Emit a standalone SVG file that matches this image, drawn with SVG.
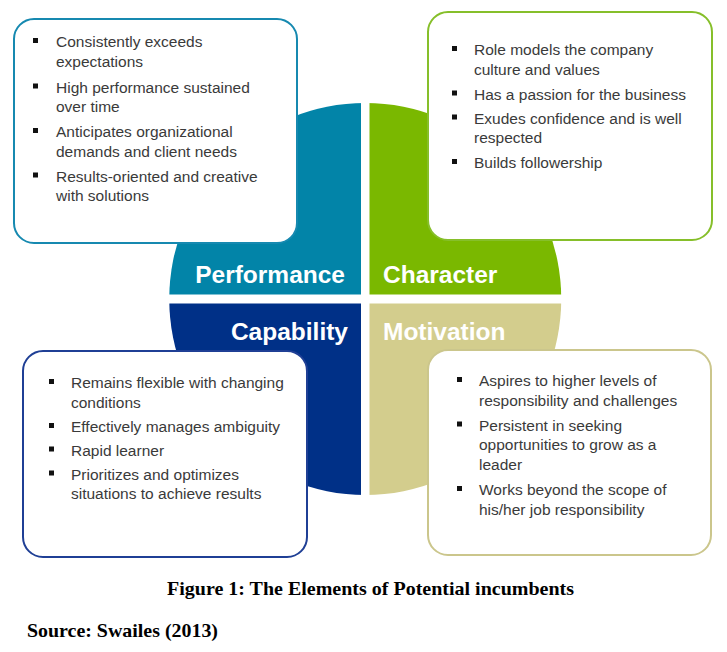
<svg xmlns="http://www.w3.org/2000/svg" width="727" height="652" viewBox="0 0 727 652">
<style>
.q{font-family:"Liberation Sans",Arial,sans-serif;font-weight:bold;font-size:24.5px;fill:#ffffff}
.t{font-family:"Liberation Sans",Arial,sans-serif;font-size:15.5px;fill:#3a3a3a}
.b{fill:#111111}
.box{fill:#ffffff;stroke-width:2}
.cap{font-family:"Liberation Serif","Times New Roman",serif;font-weight:bold;font-size:19.5px;fill:#000000}
</style>
<defs>
<clipPath id="circ"><circle cx="365.25" cy="299" r="196"/></clipPath>
</defs>
<rect x="0" y="0" width="727" height="652" fill="#ffffff"/>
<g id="quadrants" clip-path="url(#circ)">
<rect id="q-performance" x="160" y="95" width="201" height="199.5" fill="#0284A8"/>
<rect id="q-character" x="369.5" y="95" width="200" height="199.5" fill="#7AB800"/>
<rect id="q-capability" x="160" y="303.5" width="201" height="200" fill="#003087"/>
<rect id="q-motivation" x="369.5" y="303.5" width="200" height="200" fill="#D3CD8D"/>
</g>
<g id="labels">
<text class="q" x="345" y="283" text-anchor="end">Performance</text>
<text class="q" x="383" y="283">Character</text>
<text class="q" x="348" y="340" text-anchor="end">Capability</text>
<text class="q" x="383" y="340">Motivation</text>
</g>
<g id="connectors"></g>
<g id="box-performance">
<rect class="box" x="14" y="19" width="283" height="224" rx="20" stroke="#1689B0"/>
<rect class="b" x="33" y="38" width="5" height="5"/>
<rect class="b" x="33" y="83.5" width="5" height="5"/>
<rect class="b" x="33" y="128" width="5" height="5"/>
<rect class="b" x="33" y="172.5" width="5" height="5"/>
<text class="t" x="56" y="47">Consistently exceeds</text>
<text class="t" x="56" y="67">expectations</text>
<text class="t" x="56" y="92.5">High performance sustained</text>
<text class="t" x="56" y="112">over time</text>
<text class="t" x="56" y="137">Anticipates organizational</text>
<text class="t" x="56" y="157">demands and client needs</text>
<text class="t" x="56" y="181.5">Results-oriented and creative</text>
<text class="t" x="56" y="201">with solutions</text>
</g>
<g id="box-character">
<rect class="box" x="428" y="12" width="284" height="228" rx="20" stroke="#86BF2A"/>
<rect class="b" x="452" y="46" width="5" height="5"/>
<rect class="b" x="452" y="90.5" width="5" height="5"/>
<rect class="b" x="452" y="114.5" width="5" height="5"/>
<rect class="b" x="452" y="159" width="5" height="5"/>
<text class="t" x="474" y="55">Role models the company</text>
<text class="t" x="474" y="74.5">culture and values</text>
<text class="t" x="474" y="99.5">Has a passion for the business</text>
<text class="t" x="474" y="123.5">Exudes confidence and is well</text>
<text class="t" x="474" y="143">respected</text>
<text class="t" x="474" y="168">Builds followership</text>
</g>
<g id="box-capability">
<rect class="box" x="23" y="351" width="284" height="206" rx="20" stroke="#1F3F95"/>
<rect class="b" x="49" y="379" width="5" height="5"/>
<rect class="b" x="49" y="423" width="5" height="5"/>
<rect class="b" x="49" y="446.5" width="5" height="5"/>
<rect class="b" x="49" y="470.5" width="5" height="5"/>
<text class="t" x="71" y="388">Remains flexible with changing</text>
<text class="t" x="71" y="408">conditions</text>
<text class="t" x="71" y="432">Effectively manages ambiguity</text>
<text class="t" x="71" y="455.5">Rapid learner</text>
<text class="t" x="71" y="479.5">Prioritizes and optimizes</text>
<text class="t" x="71" y="499">situations to achieve results</text>
</g>
<g id="box-motivation">
<rect class="box" x="428" y="350" width="283" height="205" rx="20" stroke="#CBC68C"/>
<rect class="b" x="457" y="377" width="5" height="5"/>
<rect class="b" x="457" y="421.5" width="5" height="5"/>
<rect class="b" x="457" y="486" width="5" height="5"/>
<text class="t" x="479" y="386">Aspires to higher levels of</text>
<text class="t" x="479" y="405.5">responsibility and challenges</text>
<text class="t" x="479" y="430.5">Persistent in seeking</text>
<text class="t" x="479" y="450">opportunities to grow as a</text>
<text class="t" x="479" y="470">leader</text>
<text class="t" x="479" y="495">Works beyond the scope of</text>
<text class="t" x="479" y="515">his/her job responsibility</text>
</g>
<g id="captions">
<text class="cap" x="167" y="595" textLength="407" lengthAdjust="spacingAndGlyphs">Figure 1: The Elements of Potential incumbents</text>
<text class="cap" x="27" y="637" textLength="191" lengthAdjust="spacingAndGlyphs">Source: Swailes (2013)</text>
</g>
</svg>
